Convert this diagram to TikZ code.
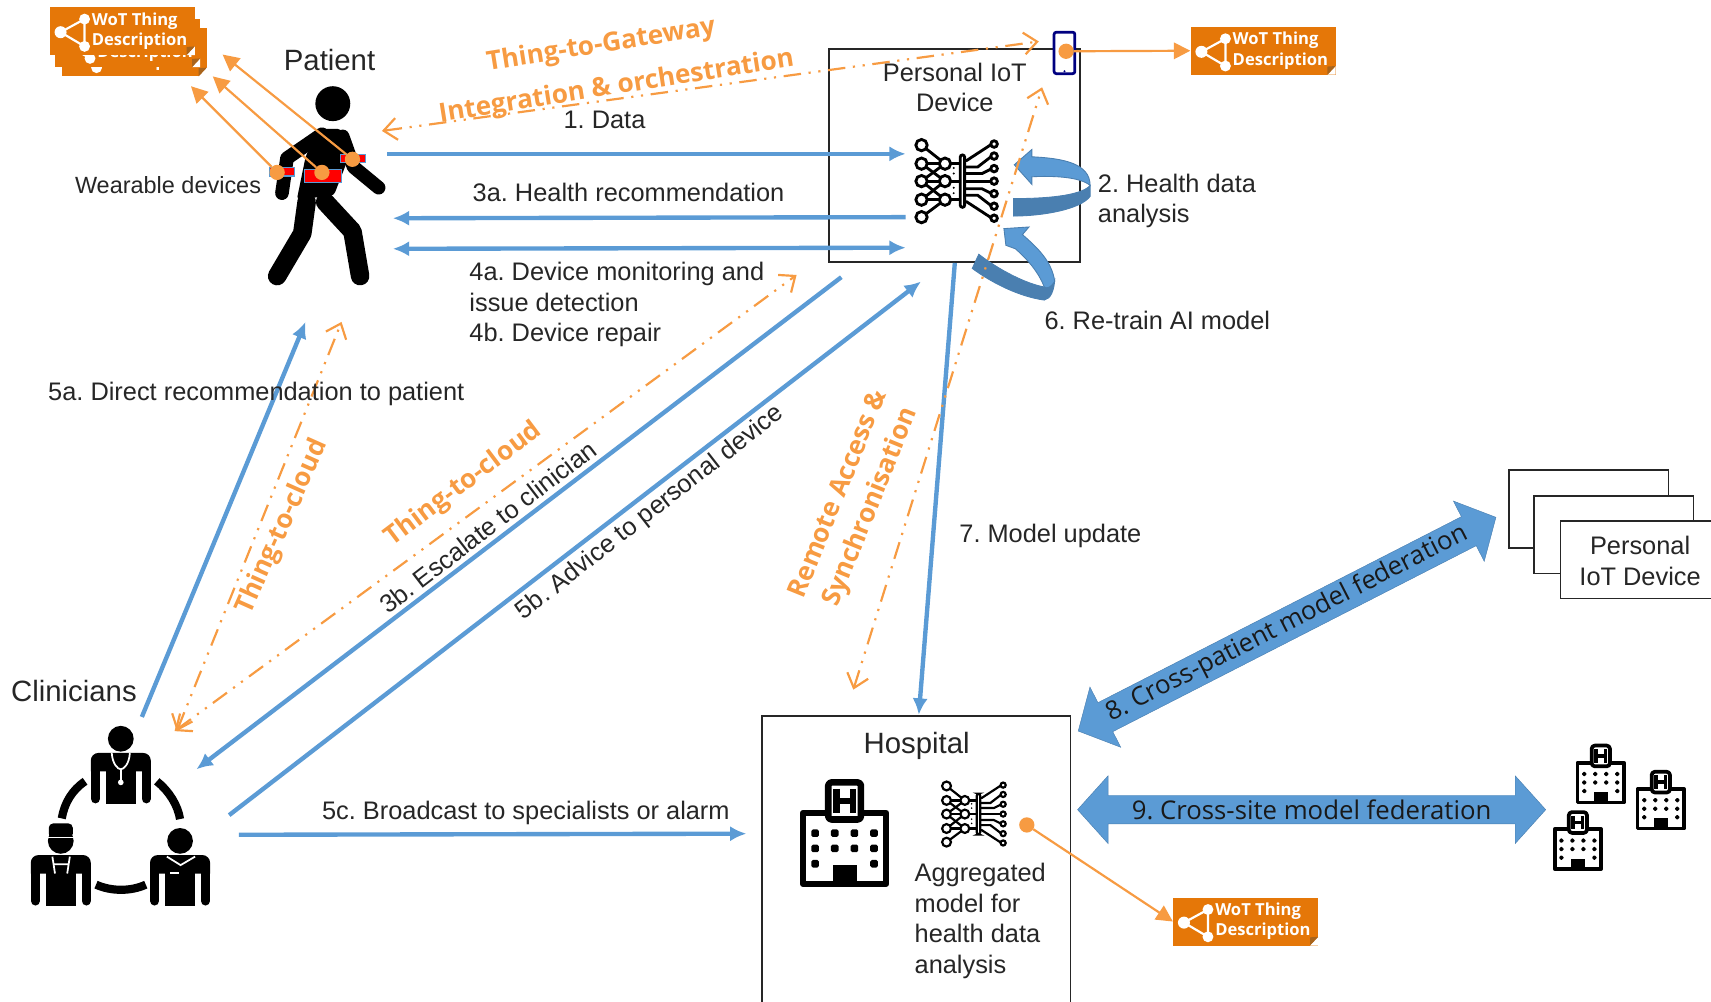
\documentclass[tikz,border=0pt]{standalone}
\usepackage{fontspec}
\setmainfont{Liberation Sans}
\newfontfamily\accentfont{Open Sans}
\newfontfamily\federfont{Open Sans}
\usetikzlibrary{arrows.meta,shapes.arrows}
\definecolor{flowblue}{HTML}{5B9BD5}
\definecolor{loopdark}{HTML}{4A7FB0}
\definecolor{linkorange}{HTML}{F79B42}
\definecolor{wotorange}{HTML}{E57708}
\definecolor{wotfold}{HTML}{A8641C}
\frenchspacing
\begin{document}
\begin{tikzpicture}[
    x=1pt, y=-1pt,
    note/.style={inner sep=0pt, text=black!85, font=\frenchspacing\fontsize{23.25}{28}\selectfont},
    notel/.style={note, anchor=west, align=left},
    title/.style={note, font=\fontsize{26.9}{32}\selectfont},
    accent/.style={inner sep=0pt, align=center, text=linkorange, font=\accentfont\bfseries\fontsize{24}{32}\selectfont},
    framebox/.style={draw=black!85, line width=1.6pt, fill=white, inner sep=0pt},
    flow/.style={draw=flowblue, line width=4pt, -{Latex[length=15pt, width=14pt]}},
    flowboth/.style={flow, {Latex[length=15pt, width=14pt]}-{Latex[length=15pt, width=14pt]}},
    sync/.style={draw=linkorange, line width=2pt,
        dash pattern=on 16pt off 7pt on 2pt off 7pt on 2pt off 7pt,
        {Straight Barb[length=12pt, width=20pt]}-{Straight Barb[length=12pt, width=20pt]}},
    link/.style={draw=linkorange, line width=2pt, -{Triangle[length=15pt, width=15pt]}},
    dot/.style={circle, fill=linkorange, minimum size=14pt, inner sep=0pt},
    wearable/.style={draw=flowblue, line width=1pt, fill=red, inner sep=0pt},
    fedarrow/.style={double arrow, double arrow head extend=13pt, double arrow tip angle=96,
        draw=loopdark, fill=flowblue, inner sep=0pt, minimum width=62pt,
        text=black!90, font=\frenchspacing\federfont\fontsize{23.6}{26}\selectfont},
    loopband/.style={draw=loopdark, line width=.8pt, fill=#1},
    pics/wotbox/.style={code={
        \node[fill=wotorange, minimum width=133pt, minimum height=44pt, inner sep=0pt] (-body) at (0,0) {};
        \fill[white] (66.5,22) -- (59,22) -- (66.5,14) -- cycle;
        \fill[wotfold] (66.5,14) -- (59,22) -- (59,14.5) -- cycle;
        \draw[white, line width=2pt] (-56.5,1) -- (-34.5,-11) -- (-34.5,14) -- cycle;
        \fill[white] (-56.5,1) circle (5.5) (-34.5,-11) circle (5) (-34.5,14) circle (5);
        \node[anchor=west, inner sep=0pt, align=left, text=white,
            font=\federfont\bfseries\fontsize{15.2}{18.5}\selectfont] (-text) at (-28,0) {WoT Thing\\Description};
    }},
    pics/neuralnet/.style={code={
        \foreach \a/\b in {-33/-16, -16/-16, -16/0, 0/-16, 0/0, 0/17, 17/0, 17/17, 33/17}
            \draw (-31.5,\a) -- (-10,\b);
        \foreach \a in {-16,0,17}
            \draw (-10,\a) -- (4,\a);
        \foreach \a/\b/\c in {-34/-19/10, -23/-13/20, -11.5/-7/24, 0/0/24, 11.5/7/24, 23/13/20, 34/19/10}
            \draw (8,\b) -- (\c,\b) -- (33,\a);
        \foreach \a in {-33,-16,0,17,33}
            \draw[fill=white] (-31.5,\a) circle (5.2);
        \foreach \a in {-16,0,17}
            \draw[fill=white] (-10,\a) circle (5.2);
        \foreach \a in {-34,-23,-11.5,0,11.5,23,34}
            \draw[fill=white] (35,\a) circle (3);
        \draw[fill=white, rounded corners=2pt] (4,-24) rectangle (8,24);
        \foreach \a in {-12,-7,6,11}
            \fill (-2,\a) circle (1);
    }},
    pics/hospitalicon/.style={code={
        \draw[line join=round, fill=white] (-38,-68) rectangle (38,-3);
        \draw[line join=round, rounded corners=3pt, fill=white] (-15,-96) rectangle (15,-62);
        \draw[line cap=butt] (-7.5,-90) -- (-7.5,-68) (7.5,-90) -- (7.5,-68) (-7.5,-79) -- (7.5,-79);
        \foreach \a in {-27,-9,9,27} {
            \fill[rounded corners=1.5pt] (\a-3.5,-53) rectangle (\a+3.5,-46);
            \fill[rounded corners=1.5pt] (\a-3.5,-39) rectangle (\a+3.5,-32);
        }
        \foreach \a in {-27,27}
            \fill[rounded corners=1.5pt] (\a-3.5,-25) rectangle (\a+3.5,-18);
        \fill (-11,-20) rectangle (11,-2);
    }},
    pics/clinician/.style={code={
        \fill (0,0) circle (11.8);
        \fill (-27.5,30) [rounded corners=7pt] -- (-27.5,13) -- (27.5,13) [sharp corners] -- (27.5,30) -- cycle;
        \draw[line width=8.5pt, line cap=round] (-23.25,25) -- (-23.25,55) (23.25,25) -- (23.25,55);
        \fill (-13.5,20) rectangle (13.5,59.6);
    }},
    pics/walker/.style={code={
        \fill (0,0) circle (16);
        \fill[rounded corners=3pt] (-14.5,23) -- (7,23) -- (14.6,49) -- (1,84) -- (-33,88) -- (-25,49) -- cycle;
        \draw[line width=12.5pt, line cap=round, line join=round] (-10,28) -- (-42,50) -- (-46.6,82);
        \draw[line width=12.5pt, line cap=round, line join=round] (9,30) -- (19,58) -- (42,77);
        \draw[line width=17pt, line cap=round, line join=round] (-24,90) -- (-28,119) -- (-51,158);
        \draw[line width=17pt, line cap=round, line join=round] (-7,90) -- (18,117) -- (25,158);
    }}
]
    \clip (0,0) rectangle (1568,918);
    \node[framebox, minimum width=230pt, minimum height=195pt] (iotbox) at (875,142.5) {};
    \node[framebox, minimum width=283pt, minimum height=280pt] (hospbox) at (839.5,796) {};
    \node[framebox, minimum width=146pt, minimum height=71pt] (stackA) at (1456,466.5) {};
    \node[framebox, minimum width=146pt, minimum height=71pt] (stackB) at (1479,490) {};
    \node[framebox, minimum width=146pt, minimum height=71pt, align=center] (stackC) at (1503,513) {};
    \node[note, align=center] (stacktext) at (1503,514) {Personal\\IoT Device};

    \pic[line width=2.6pt] (netA) at (876,166) {neuralnet};
    \pic[line width=2pt, scale=.78] (netB) at (892,746) {neuralnet};
    \pic[line width=6pt] (hospA) at (774,813) {hospitalicon};
    \pic[line width=3.4pt, scale=.56] (hospB) at (1467,737) {hospitalicon};
    \pic[line width=3.4pt, scale=.56] (hospC) at (1522,761) {hospitalicon};
    \pic[line width=3.4pt, scale=.56] (hospD) at (1446,798) {hospitalicon};

    \pic (walker) at (305,95) {walker};
    \pic (docA) at (110.7,677) {clinician};
    \pic (docB) at (55.7,770.6) {clinician};
    \pic (docC) at (165,770.6) {clinician};
    \draw[white, line width=1.6pt] (102.4,690) .. controls (103,700) and (108,705) .. (110.7,705)
        .. controls (113.5,705) and (118.5,700) .. (119,690);
    \draw[white, line width=1.6pt] (110.7,705) -- (110.7,716);
    \fill[white] (110.7,717) circle (2.6);
    \fill[rounded corners=4pt] (44.7,754.6) rectangle (66.7,768);
    \draw[white, line width=1.6pt] (43,767.5) -- (68.5,767.5);
    \draw[white, line width=1.6pt] (48,785) -- (50.4,800.5) (64,785) -- (61.6,800.5) (49.5,792) -- (62.5,792);
    \draw[white, line width=1.6pt] (152.9,785) -- (165.5,792.8) -- (178.8,785);
    \draw[white, line width=1.6pt] (156,800) -- (163.6,800);
    \draw[line width=7.5pt] (78,716) .. controls (66,724) and (59,736) .. (56.6,750);
    \draw[line width=7.5pt] (143.7,716) .. controls (155,725) and (163,738) .. (165,750.6);
    \draw[line width=7.5pt] (88,810.7) .. controls (102,817) and (120,817) .. (133.6,810.7);

    \node[wearable, minimum width=23pt, minimum height=7.5pt] (bandL) at (258.5,157.5) {};
    \node[wearable, minimum width=34pt, minimum height=12pt] (belt) at (296,161) {};
    \node[wearable, minimum width=23pt, minimum height=7.5pt] (bandR) at (323.5,145.5) {};
    \node[draw=blue!50!black, line width=2.5pt, fill=white, rounded corners=2pt,
        minimum width=19pt, minimum height=38pt, inner sep=0pt] (phone) at (975.5,48.5) {};
    \fill[blue!50!black] (phone.south) ++(0,-3.5) circle (1);

    \path[loopband=loopdark] (928.8,182) .. controls (955,182) and (990,180) .. (999,170)
        -- (999,180) .. controls (990,192) and (955,198) .. (928.8,198) -- cycle;
    \path[loopband=flowblue] (929.5,151) -- (945.6,137) -- (945.6,143.7)
        .. controls (975,145) and (999,150) .. (999,170)
        .. controls (990,162) and (965,161) .. (945.6,162) -- (945.6,169) -- cycle;
    \path[loopband=loopdark] (897,233) .. controls (915,247) and (940,260) .. (957,263)
        -- (966.6,256) .. controls (966,266) and (963,274) .. (957,275)
        .. controls (935,272) and (910,260) .. (891,246) -- cycle;
    \path[loopband=flowblue] (920,209.5) -- (943,208) -- (937,215)
        .. controls (952,228) and (964,240) .. (966.6,258)
        .. controls (963,263) and (960,265) .. (957,263)
        .. controls (952,250) and (942,238) .. (930.5,228) -- (921.8,224.8) -- cycle;

    \coordinate (dataL) at (355,141);
    \coordinate (dataR) at (830,141);
    \coordinate (recR) at (830,199);
    \coordinate (recL) at (360,200);
    \coordinate (monL) at (360,228);
    \coordinate (monR) at (830,227);
    \coordinate (directA) at (130,657);
    \coordinate (directB) at (280,295);
    \coordinate (escA) at (771,254);
    \coordinate (escB) at (180,705);
    \coordinate (adviceA) at (210,747);
    \coordinate (adviceB) at (844,258);
    \coordinate (castA) at (219,765);
    \coordinate (castB) at (684,764);
    \coordinate (updA) at (875,241);
    \coordinate (updB) at (842,655);
    \coordinate (gateL) at (350,120);
    \coordinate (gateR) at (952,38);
    \coordinate (remoteA) at (782,632);
    \coordinate (remoteB) at (955,80);
    \coordinate (cloudA) at (160,670);
    \coordinate (cloudB) at (730,252);
    \coordinate (cloudC) at (162,670);
    \coordinate (cloudD) at (313,295);
    \coordinate (tdA) at (175,79);
    \coordinate (tdB) at (195,70);
    \coordinate (tdC) at (204,50);

    \draw[flow] (dataL) -- (dataR);
    \draw[flow] (recR) -- (recL);
    \draw[flowboth] (monL) -- (monR);
    \draw[flow] (directA) -- (directB);
    \draw[flow] (escA) -- (escB);
    \draw[flow] (adviceA) -- (adviceB);
    \draw[flow] (castA) -- (castB);
    \draw[flow] (updA) -- (updB);
    \draw[sync] (gateL) -- (gateR);
    \draw[sync] (remoteA) -- (remoteB);
    \draw[sync] (cloudA) -- (cloudB);
    \draw[sync] (cloudC) -- (cloudD);

    \pic (wotC) at (123,48) {wotbox};
    \pic (wotB) at (117,39.5) {wotbox};
    \pic (wotA) at (112,28.5) {wotbox};
    \pic (wotR) at (1157.5,46.5) {wotbox};
    \pic (wotH) at (1141.5,844.5) {wotbox};

    \node[dot] (dotL) at (254,158) {};
    \node[dot] (dotM) at (295,158) {};
    \node[dot] (dotR) at (323,146) {};
    \node[dot] (dotP) at (977,47) {};
    \node[dot] (dotH) at (941,756) {};
    \draw[link] (dotL) -- (tdA);
    \draw[link] (dotM) -- (tdB);
    \draw[link] (dotR) -- (tdC);
    \draw[link] (dotP) -- (wotR-body.west);
    \draw[link] (dotH) -- (wotH-body.west);

    \node[fedarrow, minimum height=430pt, rotate=27.1] (fedpatient) at (1179.5,572) {8. Cross-patient model federation};
    \node[fedarrow, minimum height=429pt] (fedsite) at (1202,742) {9. Cross-site model federation};

    \node[title] (patient) at (302,55) {Patient};
    \node[note, font=\fontsize{21.5}{26}\selectfont] (wearables) at (154,170) {Wearable devices};
    \node[note] (data) at (554,109.5) {1. Data};
    \node[note] (healthrec) at (576,176) {3a. Health recommendation};
    \node[notel] (monitor) at (430,279) {4a. Device monitoring and\\issue detection\\4b. Device repair};
    \node[notel] (direct) at (44,361) {5a. Direct recommendation to patient};
    \node[notel] (analysis) at (1006,184) {2. Health data\\analysis};
    \node[notel] (retrain) at (957,293.5) {6. Re-train AI model};
    \node[notel] (update) at (879,491) {7. Model update};
    \node[note, align=center] (iottext) at (875,80) {Personal IoT\\Device};
    \node[title, anchor=west] (clinicians) at (10,633) {Clinicians};
    \node[title] (hospital) at (840,683.5) {Hospital};
    \node[notel] (aggregated) at (838,844) {Aggregated\\model for\\health data\\analysis};
    \node[notel] (broadcast) at (295,745) {5c. Broadcast to specialists or alarm};
    \node[note, rotate=37.5] (escalate) at (447,483) {3b. Escalate to clinician};
    \node[note, rotate=38] (advice) at (596,470) {5b. Advice to personal device};

    \node[accent, rotate=9] (gateway) at (551,42) {Thing-to-Gateway};
    \node[accent, rotate=9] (orchestr) at (565,80) {Integration \& orchestration};
    \node[accent, rotate=37] (cloudtop) at (425,444) {Thing-to-cloud};
    \node[accent, rotate=66] (cloudleft) at (259,483) {Thing-to-cloud};
    \node[accent, rotate=68] (remote) at (784,459) {Remote Access \&\\Synchronisation};
\end{tikzpicture}
\end{document}
